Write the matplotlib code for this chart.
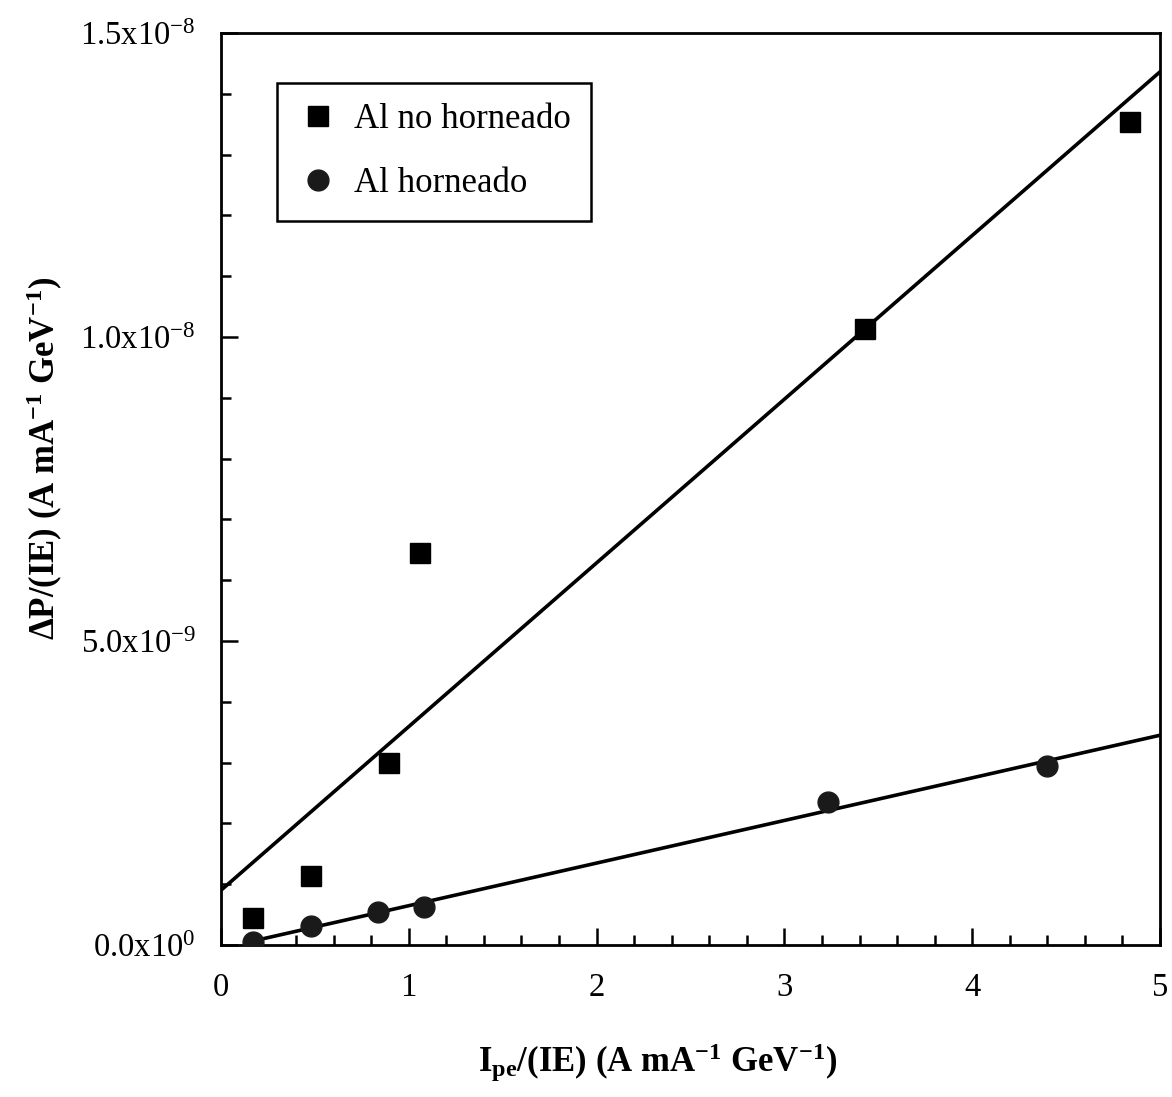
import numpy as np
import matplotlib
matplotlib.use("Agg")
import matplotlib.pyplot as plt
from matplotlib.ticker import MultipleLocator, FixedLocator

plt.rcParams['font.family'] = ['Liberation Serif', 'DejaVu Serif']
plt.rcParams['mathtext.fontset'] = 'custom'
plt.rcParams['mathtext.rm'] = 'Liberation Serif'
plt.rcParams['mathtext.it'] = 'Liberation Serif:italic'
plt.rcParams['mathtext.bf'] = 'Liberation Serif:bold'

# Data (x in A mA^-1 GeV^-1, y in units of 1e-9)
x_no_horneado = [0.17, 0.48, 0.895, 1.06, 3.43, 4.84]
y_no_horneado = [0.44, 1.13, 2.99, 6.45, 10.13, 13.54]
x_horneado = [0.17, 0.48, 0.835, 1.08, 3.23, 4.40]
y_horneado = [0.05, 0.31, 0.54, 0.63, 2.35, 2.94]

label_no = "Al no horneado"
label_h = "Al horneado"
ytick_vals = [0.0, 5e-9, 1.0e-8, 1.5e-8]
ytick_labels = [r"0.0x10$^{0}$", r"5.0x10$^{-9}$", r"1.0x10$^{-8}$", r"1.5x10$^{-8}$"]
xtick_vals = [0, 1, 2, 3, 4, 5]

scale = 1e-9
xa = np.array(x_no_horneado); ya = np.array(y_no_horneado) * scale
xb = np.array(x_horneado); yb = np.array(y_horneado) * scale

fig = plt.figure(figsize=(11.72, 10.97), dpi=100)
ax = fig.add_axes([221/1172, 1 - 945/1097, 939/1172, 912/1097])

# Linear fits
pa = np.polyfit(xa, ya, 1)
pb = np.polyfit(xb, yb, 1)
xfa = np.linspace(0, 5, 200)
xfb = np.linspace(xb.min(), 5, 200)
ax.plot(xfa, np.polyval(pa, xfa), color='black', lw=2.6, zorder=2)
ax.plot(xfb, np.polyval(pb, xfb), color='black', lw=2.6, zorder=2)

ax.plot(xa, ya, linestyle='none', marker='s', markersize=14, color='black',
        label=label_no, zorder=3)
ax.plot(xb, yb, linestyle='none', marker='o', markersize=15, color='#1a1a1a',
        markeredgecolor='#1a1a1a', label=label_h, zorder=3)

ax.set_xlim(0, 5)
ax.set_ylim(0, 1.5e-8)
ax.xaxis.set_major_locator(FixedLocator(xtick_vals))
ax.xaxis.set_minor_locator(MultipleLocator(0.2))
ax.yaxis.set_major_locator(FixedLocator(ytick_vals))
ax.yaxis.set_minor_locator(MultipleLocator(1e-9))
ax.set_xticklabels([str(v) for v in xtick_vals])
ax.set_yticklabels(ytick_labels)

ax.tick_params(axis='both', which='both', direction='in', top=False, right=False,
               labelsize=23.5, width=1.8)
ax.tick_params(axis='both', which='major', length=12.5)
ax.tick_params(axis='both', which='minor', length=7)
ax.tick_params(axis='x', pad=20)
ax.tick_params(axis='y', pad=18)
for s in ax.spines.values():
    s.set_linewidth(2.0)

ax.set_xlabel(r"$\mathbf{I_{pe}}$/(IE) (A mA$^{\mathbf{-1}}$ GeV$^{\mathbf{-1}}$)",
              fontsize=25, fontweight='bold')
ax.set_ylabel(r"$\mathbf{\Delta}$P/(IE) (A mA$^{\mathbf{-1}}$ GeV$^{\mathbf{-1}}$)",
              fontsize=25, fontweight='bold')
ax.xaxis.set_label_coords((658 - 221) / 939, (945 - 1042) / 912)
ax.yaxis.set_label_coords((65 - 221) / 939, (945 - 458) / 912)

leg = ax.legend(loc='upper left', bbox_to_anchor=((277-221)/939, (945-83)/912),
                borderaxespad=0, frameon=True, fancybox=False, edgecolor='black',
                fontsize=25, handletextpad=0.45, labelspacing=0.9,
                borderpad=0.58, handlelength=1.2, framealpha=1)
leg.get_frame().set_linewidth(1.8)

fig.savefig("out.png", dpi=100)
